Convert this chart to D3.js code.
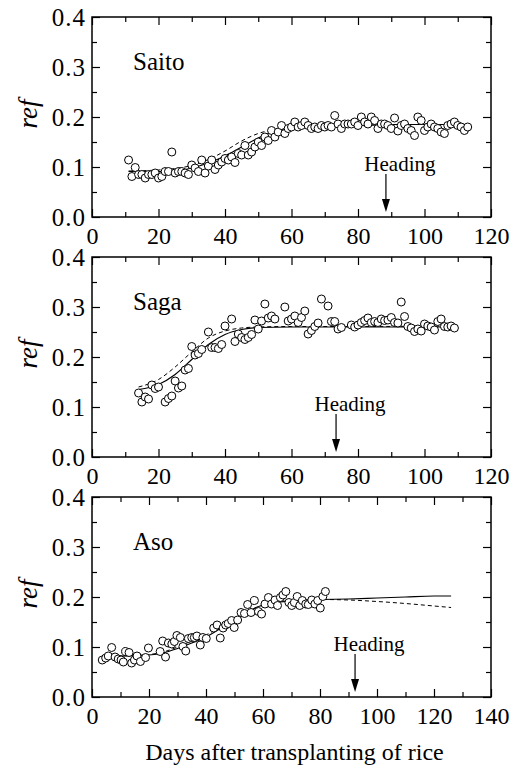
<!DOCTYPE html>
<html>
<head>
<meta charset="utf-8">
<script src="https://cdn.jsdelivr.net/npm/d3@7"></script>
<style>
  body { margin: 0; background: #fff; }
  text { font-family: "Liberation Serif", "Times New Roman", "DejaVu Serif", serif; fill: #000; }
</style>
</head>
<body>
<div id="chart"></div>
<script>
// ---- data ----
var saitoDays = [11,12,13,14,15,16,17,18,19,20,21,22,23,24,25,26,27,28,29,30,31,32,33,34,35,36,37,38,39,40,
  41,42,43,44,45,46,47,48,49,50,51,52,53,54,55,56,57,58,59,60,61,62,63,64,65,66,67,68,69,70,
  71,72,73,74,75,76,77,78,79,80,81,82,83,84,85,86,87,88,89,90,91,92,93,94,95,96,97,98,99,100,
  101,102,103,104,105,106,107,108,109,110,111,112,113];
var saitoRef = [0.114,0.081,0.099,0.085,0.085,0.078,0.085,0.085,0.088,0.078,0.081,0.091,0.091,0.130,0.088,0.091,0.091,0.088,0.085,0.104,
  0.098,0.091,0.114,0.088,0.102,0.114,0.095,0.104,0.110,0.117,0.114,0.120,0.109,0.127,0.124,0.143,0.124,0.130,0.140,0.150,
  0.143,0.160,0.153,0.173,0.160,0.170,0.183,0.167,0.177,0.180,0.190,0.180,0.183,0.190,0.183,0.177,0.180,0.177,0.183,0.180,
  0.183,0.180,0.203,0.186,0.177,0.186,0.186,0.186,0.190,0.183,0.200,0.190,0.186,0.200,0.193,0.177,0.186,0.186,0.183,0.177,
  0.198,0.172,0.183,0.186,0.177,0.173,0.163,0.200,0.193,0.173,0.180,0.186,0.180,0.177,0.170,0.167,0.183,0.186,0.190,0.183,
  0.180,0.173,0.180];
var saitoFitDays = [11,20,25,30,35,40,45,50,55,60,65,70,80,90,100,113];
var saitoSolid   = [0.091,0.091,0.092,0.098,0.108,0.122,0.140,0.158,0.172,0.178,0.180,0.181,0.183,0.185,0.185,0.185];
var saitoDashed  = [0.092,0.094,0.097,0.103,0.115,0.132,0.152,0.167,0.175,0.178,0.180,0.181,0.183,0.185,0.185,0.185];

var sagaDays = [14,15,16,17,18,19,20,22,23,24,25,26,27,28,29,30,31,32,33,35,36,37,38,39,40,42,43,44,45,46,
  47,48,49,50,51,52,53,54,55,58,59,60,61,62,63,64,65,66,67,68,69,71,72,73,74,75,78,79,80,81,
  82,83,84,85,86,87,88,89,90,91,92,93,94,95,96,97,98,99,100,101,102,103,104,105,106,107,108,109];
var sagaRef = [0.128,0.110,0.120,0.116,0.144,0.137,0.140,0.110,0.117,0.122,0.152,0.138,0.142,0.174,0.177,0.221,0.204,0.207,0.215,0.250,
  0.219,0.219,0.217,0.225,0.262,0.276,0.231,0.246,0.239,0.235,0.239,0.245,0.274,0.256,0.272,0.306,0.278,0.282,0.276,0.300,
  0.272,0.276,0.282,0.269,0.279,0.292,0.246,0.253,0.261,0.268,0.316,0.302,0.271,0.271,0.256,0.259,0.264,0.260,0.264,0.269,
  0.273,0.278,0.269,0.271,0.269,0.276,0.273,0.274,0.279,0.269,0.268,0.310,0.281,0.261,0.258,0.251,0.256,0.252,0.266,0.262,
  0.260,0.254,0.271,0.276,0.261,0.260,0.262,0.258];
var sagaFitDays = [14,20,25,30,35,40,45,50,60,80,109];
var sagaSolid   = [0.135,0.145,0.165,0.195,0.225,0.245,0.255,0.259,0.260,0.260,0.260];
var sagaDashed  = [0.140,0.155,0.180,0.210,0.238,0.252,0.258,0.260,0.261,0.261,0.262];

var asoDays = [3.6,4.8,5.7,6.9,8.1,9.2,10.2,11.0,11.8,13.0,13.9,14.9,15.8,17.0,18.8,19.8,23.9,24.8,25.8,26.8,
  28.0,28.9,29.8,31.0,31.9,32.9,33.8,35.0,35.9,36.8,38.0,38.9,40.1,42.7,43.9,45.0,46.0,46.9,47.8,49.0,
  49.9,51.1,52.3,53.5,54.6,55.8,57.0,58.4,59.5,60.7,61.9,63.0,64.2,65.1,66.1,67.0,68.0,69.1,70.1,71.0,
  72.0,72.9,73.8,75.0,75.9,77.1,78.2,79.2,80.1,81.0,81.9];
var asoRef = [0.074,0.078,0.082,0.099,0.080,0.076,0.074,0.070,0.091,0.089,0.068,0.074,0.082,0.071,0.079,0.098,0.091,0.112,0.080,0.108,
  0.106,0.111,0.123,0.119,0.101,0.092,0.117,0.119,0.119,0.122,0.104,0.119,0.117,0.138,0.144,0.118,0.138,0.144,0.147,0.153,
  0.139,0.154,0.169,0.167,0.185,0.169,0.193,0.171,0.166,0.186,0.199,0.186,0.194,0.183,0.199,0.204,0.211,0.189,0.183,0.189,
  0.201,0.183,0.193,0.186,0.185,0.194,0.186,0.193,0.178,0.201,0.211];
var asoFitDays = [4,10,20,25,30,35,40,45,50,55,60,65,70,80,90,100,110,120,126];
var asoSolid   = [0.080,0.082,0.084,0.088,0.097,0.108,0.120,0.137,0.155,0.172,0.184,0.190,0.193,0.195,0.196,0.198,0.200,0.202,0.202];
var asoDashed  = [0.080,0.082,0.085,0.090,0.100,0.112,0.124,0.140,0.157,0.172,0.184,0.189,0.192,0.195,0.194,0.191,0.187,0.182,0.179];

var siteNames = ["Saito", "Saga", "Aso"];
var headingDays = [88.4, 73.4, 92.3];
var xMaxes = [120, 120, 140];
var yTicks = [0.0, 0.1, 0.2, 0.3, 0.4];

// ---- layout ----
var width = 515, height = 767;
var left = 92, right = 491;
var panelTops = [17, 257, 497], panelHeight = 200;

var svg = d3.select("#chart").append("svg")
  .attr("width", width)
  .attr("height", height);

var panels = [
  {days: saitoDays, ref: saitoRef, fitDays: saitoFitDays, solid: saitoSolid, dashed: saitoDashed},
  {days: sagaDays, ref: sagaRef, fitDays: sagaFitDays, solid: sagaSolid, dashed: sagaDashed},
  {days: asoDays, ref: asoRef, fitDays: asoFitDays, solid: asoSolid, dashed: asoDashed}
];

// strip the domain line and set the serif font on tick labels
function tidy(a) {
  a.select(".domain").remove();
  a.attr("font-family", null);
  a.selectAll("text").style("font-size", "24px");
}

panels.forEach(function(p, i) {
  var top = panelTops[i], bottom = top + panelHeight;
  var xMax = xMaxes[i];

  var x = d3.scaleLinear().domain([0, xMax]).range([left, right]);
  var y = d3.scaleLinear().domain([0, 0.4]).range([bottom, top]);

  var g = svg.append("g");

  var majorX = d3.range(0, xMax + 1, 20);
  var minorX = d3.range(10, xMax, 20);
  var minorY = [0.05, 0.15, 0.25, 0.35];

  // bottom axis with labels
  g.append("g")
    .attr("transform", "translate(0," + bottom + ")")
    .call(d3.axisBottom(x).tickValues(majorX).tickSize(-8).tickPadding(10).tickFormat(d3.format("d")))
    .call(tidy);
  g.append("g")
    .attr("transform", "translate(0," + bottom + ")")
    .call(d3.axisBottom(x).tickValues(minorX).tickSize(-5).tickFormat(""))
    .call(tidy);
  // top axis, ticks only
  g.append("g")
    .attr("transform", "translate(0," + top + ")")
    .call(d3.axisTop(x).tickValues(majorX).tickSize(-8).tickFormat(""))
    .call(tidy);
  g.append("g")
    .attr("transform", "translate(0," + top + ")")
    .call(d3.axisTop(x).tickValues(minorX).tickSize(-5).tickFormat(""))
    .call(tidy);
  // left axis with labels
  g.append("g")
    .attr("transform", "translate(" + left + ",0)")
    .call(d3.axisLeft(y).tickValues(yTicks).tickSize(-8).tickPadding(6).tickFormat(d3.format(".1f")))
    .call(tidy)
    .call(function(a) { a.selectAll("text").style("font-size", "25px").style("letter-spacing", "1px"); });
  g.append("g")
    .attr("transform", "translate(" + left + ",0)")
    .call(d3.axisLeft(y).tickValues(minorY).tickSize(-5).tickFormat(""))
    .call(tidy);
  // right axis, ticks only
  g.append("g")
    .attr("transform", "translate(" + right + ",0)")
    .call(d3.axisRight(y).tickValues(yTicks).tickSize(-8).tickFormat(""))
    .call(tidy);
  g.append("g")
    .attr("transform", "translate(" + right + ",0)")
    .call(d3.axisRight(y).tickValues(minorY).tickSize(-5).tickFormat(""))
    .call(tidy);

  g.selectAll(".tick line").attr("stroke", "#000").attr("stroke-width", 1.2);

  // frame
  g.append("rect")
    .attr("x", left).attr("y", top)
    .attr("width", right - left).attr("height", bottom - top)
    .attr("fill", "none").attr("stroke", "#000").attr("stroke-width", 1.5);

  // fitted curves
  var line = d3.line()
    .x(function(d) { return x(d[0]); })
    .y(function(d) { return y(d[1]); })
    .curve(d3.curveMonotoneX);

  g.append("path")
    .datum(p.fitDays.map(function(d, k) { return [d, p.dashed[k]]; }))
    .attr("d", line)
    .attr("fill", "none").attr("stroke", "#000").attr("stroke-width", 1)
    .attr("stroke-dasharray", "4,3");
  g.append("path")
    .datum(p.fitDays.map(function(d, k) { return [d, p.solid[k]]; }))
    .attr("d", line)
    .attr("fill", "none").attr("stroke", "#000").attr("stroke-width", 1.2);

  // observations
  g.selectAll(".obs")
    .data(p.days.map(function(d, k) { return [d, p.ref[k]]; }))
    .enter().append("circle")
    .attr("class", "obs")
    .attr("cx", function(d) { return x(d[0]); })
    .attr("cy", function(d) { return y(d[1]); })
    .attr("r", 4)
    .attr("fill", "#fff").attr("stroke", "#000").attr("stroke-width", 1);

  // site name
  g.append("text")
    .attr("x", left + 41)
    .attr("y", top + 53)
    .style("font-size", "25px")
    .text(siteNames[i]);

  // heading arrow
  var hx = x(headingDays[i]);
  var tipY = bottom - 5;
  g.append("line")
    .attr("x1", hx).attr("x2", hx)
    .attr("y1", bottom - 43).attr("y2", tipY - 12)
    .attr("stroke", "#000").attr("stroke-width", 1.2);
  g.append("path")
    .attr("d", "M" + (hx - 4) + "," + (tipY - 13) + " L" + (hx + 4) + "," + (tipY - 13) + " L" + hx + "," + tipY + " Z")
    .attr("fill", "#000");
  g.append("text")
    .attr("x", hx + 14)
    .attr("y", bottom - 46)
    .attr("text-anchor", "middle")
    .style("font-size", "21px")
    .text("Heading");

  // y label
  g.append("text")
    .attr("transform", "translate(37," + (top + panelHeight / 2 - 3) + ") rotate(-90)")
    .attr("text-anchor", "middle")
    .style("font-size", "27px")
    .style("font-style", "italic")
    .text("ref");
});

svg.append("text")
  .attr("x", (left + right) / 2 + 3)
  .attr("y", 760)
  .attr("text-anchor", "middle")
  .style("font-size", "24px")
  .text("Days after transplanting of rice");
</script>
</body>
</html>
